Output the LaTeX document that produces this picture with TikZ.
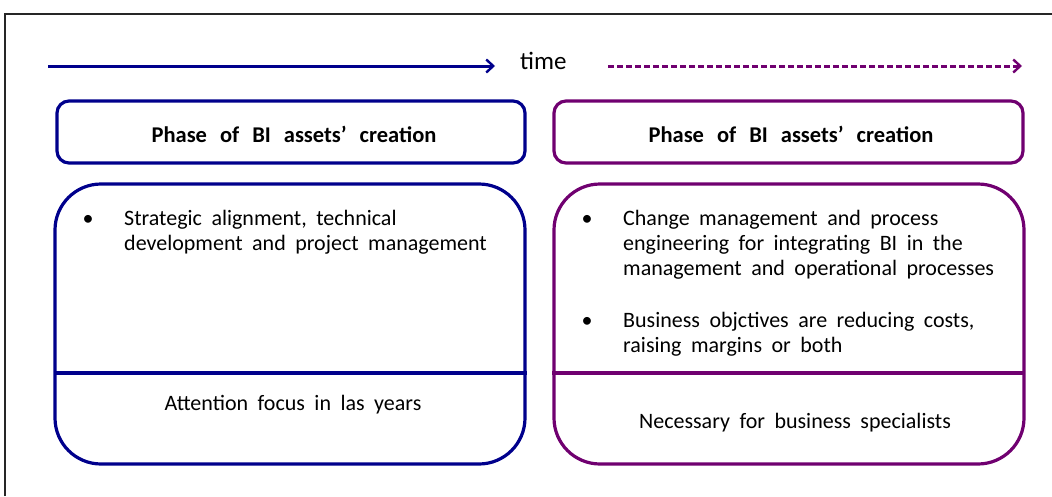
\documentclass[tikz,border=0pt]{standalone}
\usepackage{fontspec}
\setmainfont{Carlito}
\usetikzlibrary{arrows.meta}
\definecolor{navyb}{RGB}{0,0,140}
\definecolor{purp}{RGB}{112,0,112}
\newcommand{\widesp}[1]{\spaceskip #1\relax}
\tikzset{
  x=1pt,y=-1pt,
  hdr/.style={draw,line width=3.2pt,rounded corners=12pt},
  bigbox/.style={draw,line width=3.2pt,rounded corners=46pt},
  body/.style={font={\fontsize{22}{25}\selectfont\widesp{9.5pt}},inner sep=0pt},
  ln/.style={body,anchor=base west},
  ctr/.style={body,anchor=base},
  bul/.style={body,anchor=base},
  ttl/.style={font={\bfseries\fontsize{22.5}{25}\selectfont\widesp{13pt}},inner sep=0pt,anchor=base},
  arr/.style={line width=3pt,-{Straight Barb[length=7pt,width=13pt,line width=2.4pt]}},
}
\begin{document}
\begin{tikzpicture}
\useasboundingbox (0,0) rectangle (1052,496);
% outer frame
\draw[line width=1.2pt,black!85] (5,496) -- (5,14) -- (1052,14);
% time arrows
\coordinate (a1s) at (48,66); \coordinate (a1e) at (495,66);
\coordinate (a2s) at (608,66); \coordinate (a2e) at (1022,66);
\draw[arr,navyb] (a1s) -- (a1e);
\node[font=\fontsize{25}{28}\selectfont,anchor=base west,inner sep=0pt] (time) at (520,69) {time};
\draw[arr,purp,dash pattern=on 6pt off 3pt] (a2s) -- (a2e);
% header boxes
\node[hdr,navyb,minimum width=468pt,minimum height=62pt] (h1) at (291,132) {};
\node[ttl] (t1) at (294,142) {Phase of BI assets’ creation};
\node[hdr,purp,minimum width=469pt,minimum height=62pt] (h2) at (788.5,132) {};
\node[ttl] (t2) at (791,142) {Phase of BI assets’ creation};
% big boxes
\node[bigbox,navyb,minimum width=470pt,minimum height=280pt] (b1) at (290,324) {};
\node[bigbox,purp,minimum width=470pt,minimum height=280pt] (b2) at (789,324) {};
\coordinate (d1l) at (55,373); \coordinate (d1r) at (527,373);
\coordinate (d2l) at (552,373); \coordinate (d2r) at (1024,373);
\draw[navyb,line width=3.2pt] (d1l) -- (d1r);
\draw[purp,line width=3.2pt] (d2l) -- (d2r);
% left texts
\node[bul] (lb1) at (88,225) {•};
\node[ln] (l1a) at (124,225) {Strategic alignment,  technical};
\node[ln] (l1b) at (124,250) {development and project management};
\node[ctr] (l2) at (293,410) {Attention focus in las years};
% right texts
\node[bul] (rb1) at (587,225) {•};
\node[ln] (r1a) at (623,225) {Change management and process};
\node[ln] (r1b) at (623,250) {engineering for integrating BI in the};
\node[ln] (r1c) at (623,275) {management and operational processes};
\node[bul] (rb2) at (587,327) {•};
\node[ln] (r2a) at (623,327) {Business objctives are reducing costs,};
\node[ln] (r2b) at (623,352) {raising margins or both};
\node[ctr] (r3) at (795,428) {Necessary for business specialists};
\end{tikzpicture}
\end{document}
